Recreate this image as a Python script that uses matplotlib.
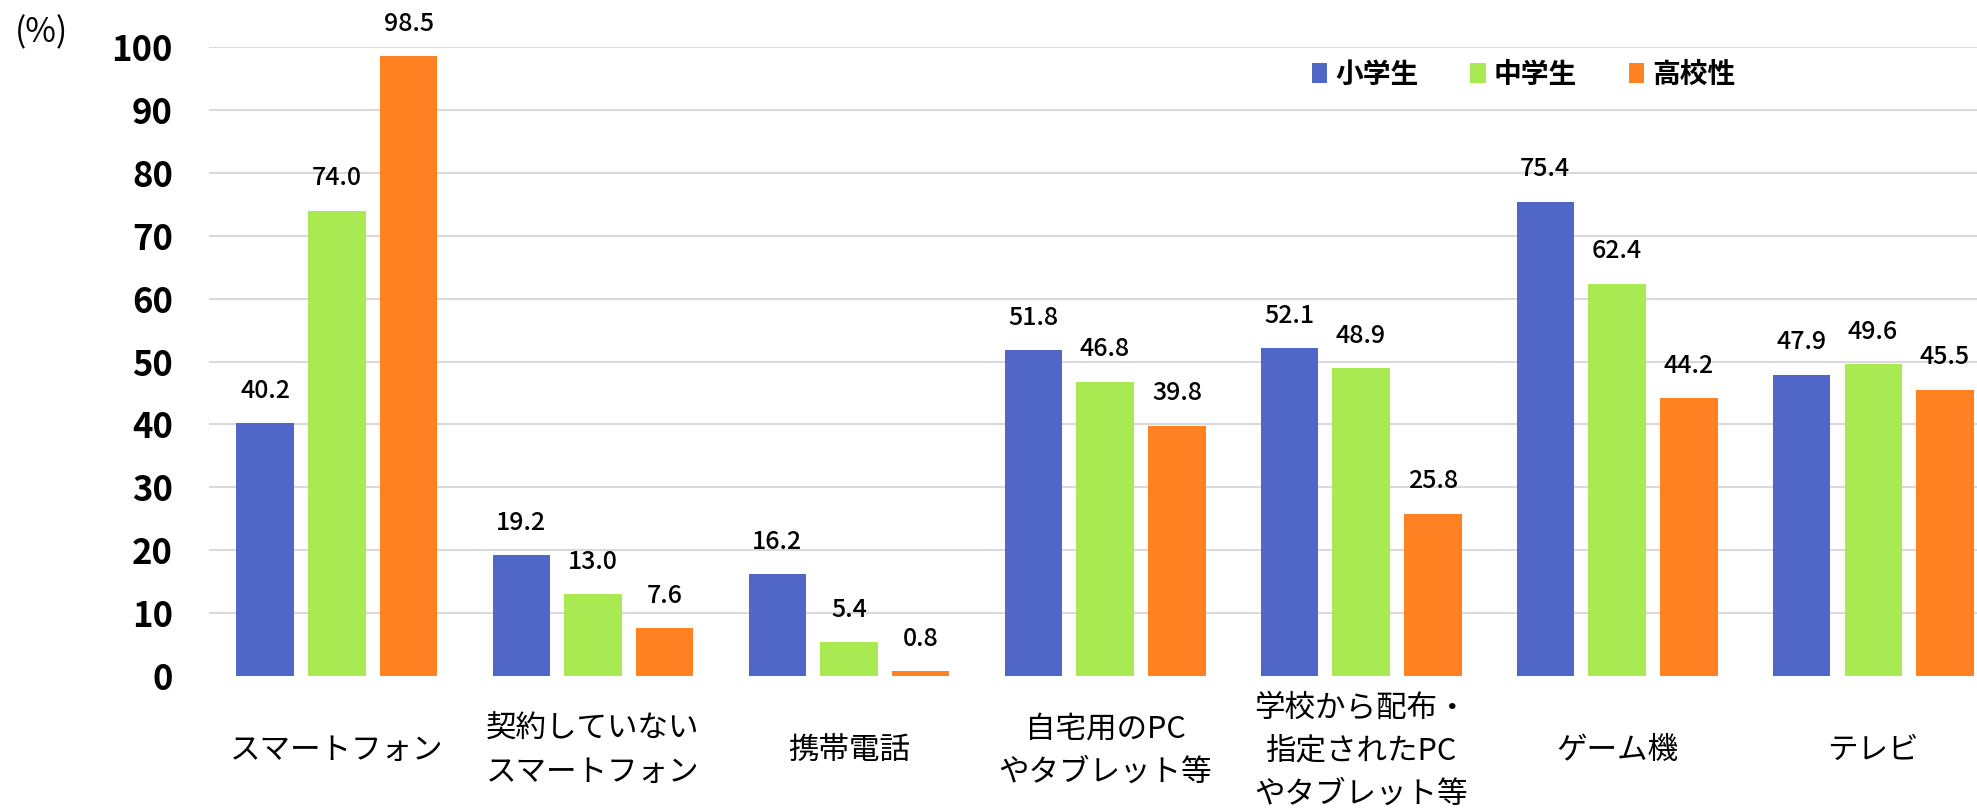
import matplotlib
matplotlib.use("Agg")
import matplotlib.pyplot as plt
import numpy as np
from matplotlib.patches import Patch

plt.rcParams['font.family'] = ['Noto Sans CJK JP', 'DejaVu Sans']

# 端末別の利用率 (%)
categories = ["スマートフォン", "契約していない\nスマートフォン", "携帯電話",
              "自宅用のPC\nやタブレット等", "学校から配布・\n指定されたPC\nやタブレット等",
              "ゲーム機", "テレビ"]
series_names = ["小学生", "中学生", "高校性"]
elementary = [40.2, 19.2, 16.2, 51.8, 52.1, 75.4, 47.9]
junior_high = [74.0, 13.0, 5.4, 46.8, 48.9, 62.4, 49.6]
high_school = [98.5, 7.6, 0.8, 39.8, 25.8, 44.2, 45.5]
colors = ["#5067C7", "#A9EA52", "#FF8122"]

fig = plt.figure(figsize=(19.77, 8.09), dpi=100)
ax = fig.add_axes([0.1057, 0.1644, 0.8943, 0.7775])

x = np.arange(len(categories))
width = 0.223
step = 0.281
for i, (vals, c) in enumerate(zip([elementary, junior_high, high_school], colors)):
    pos = x + (i - 1) * step
    ax.bar(pos, vals, width, color=c, zorder=3)
    for px, v in zip(pos, vals):
        ax.annotate(f"{v:.1f}", (px, v), xytext=(0, 14), textcoords="offset points",
                    ha="center", va="bottom", fontsize=18, fontweight="medium",
                    clip_on=False)

ax.set_xlim(-0.5, 6.406)
ax.set_ylim(0, 100)
ax.set_yticks(np.arange(0, 101, 10))
ax.set_yticklabels([str(v) for v in range(0, 101, 10)], fontsize=25, fontweight="bold")
ax.tick_params(axis="y", length=0, pad=26)
ax.set_xticks([])

# gridlines at 10..100 only
for v in range(10, 101, 10):
    ax.axhline(v, color="#D9D9D9", lw=1.5, zorder=1)

for s in ax.spines.values():
    s.set_visible(False)

for xi, lab in zip(x, categories):
    ax.text(xi, -0.119, lab, transform=ax.get_xaxis_transform(), ha="center", va="center",
            fontsize=22, linespacing=1.5, clip_on=False)

fig.text(15 / 1977, 1 - 33 / 809, "(%)", fontsize=24, ha="left", va="center")

handles = [Patch(facecolor=c, edgecolor="none") for c in colors]
fig.legend(handles, series_names, loc="center left", bbox_to_anchor=(1312 / 1977, 1 - 75 / 809),
           ncol=3, frameon=False, prop={"size": 20, "weight": "bold"},
           handlelength=0.55, handleheight=0.72, handletextpad=0.3, columnspacing=1.85,
           borderpad=0, borderaxespad=0)

fig.savefig("out.png", dpi=100)
